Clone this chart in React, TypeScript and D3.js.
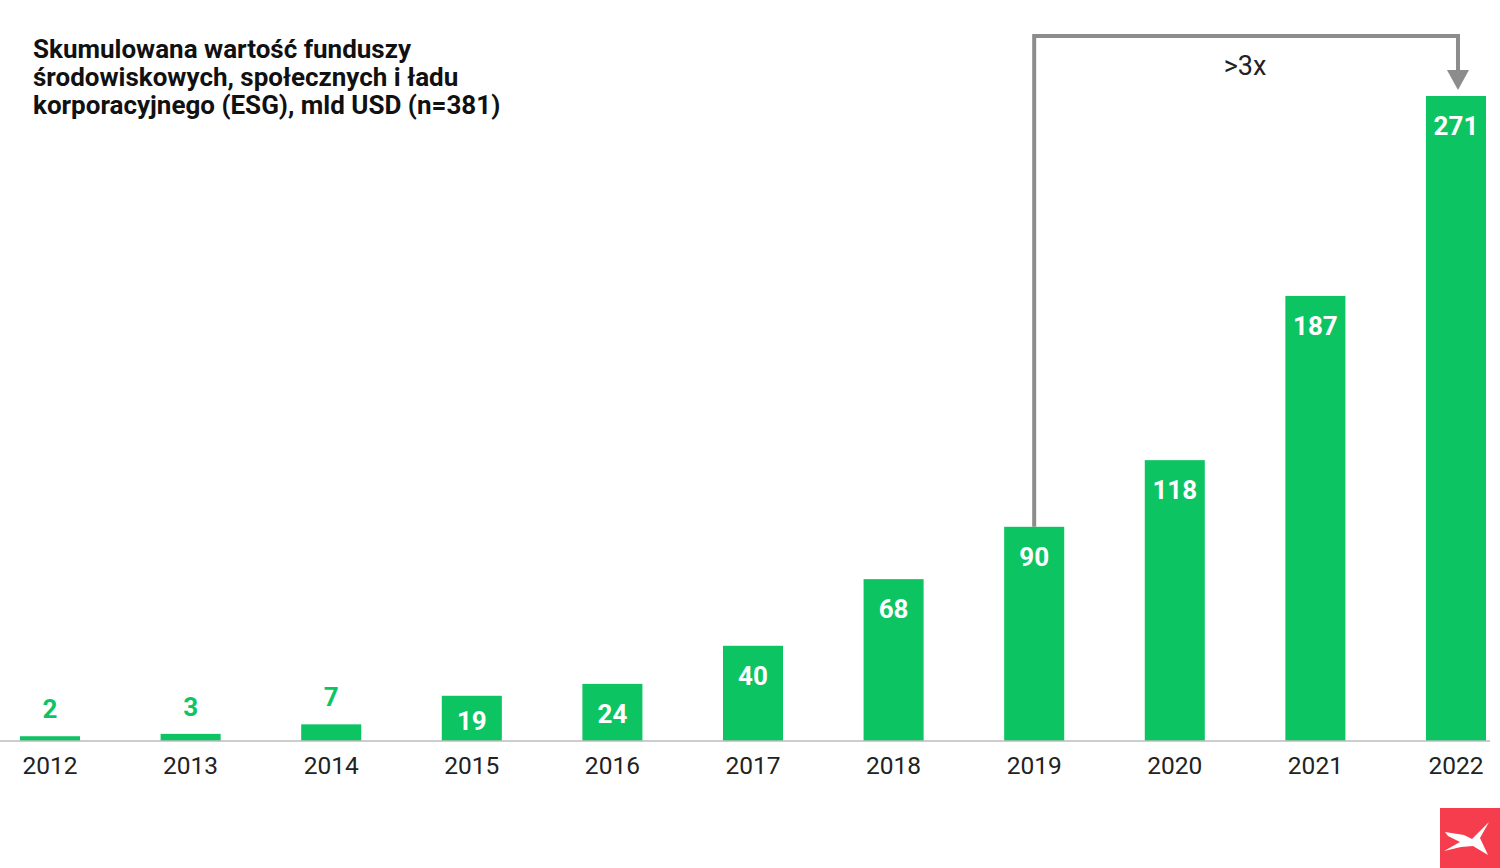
import React from "react";
import * as d3 from "d3";

const years = ["2012","2013","2014","2015","2016","2017","2018","2019","2020","2021","2022"];
const values = [2,3,7,19,24,40,68,90,118,187,271];
const titleLines = [
  "Skumulowana wartość funduszy",
  "środowiskowych, społecznych i ładu",
  "korporacyjnego (ESG), mld USD (n=381)",
];
const annotationText = ">3x";

const W = 1500, H = 868;
const GREEN = "#0dc463";
const FONT = "Roboto, 'Noto Sans', sans-serif";

export default function App() {
  const x = d3.scaleBand<string>().domain(years).range([20, 1486]).paddingInner(0.573).paddingOuter(0);
  const baseY = 741;
  const y = d3.scaleLinear().domain([0, 271]).range([baseY, 96]);
  const bw = x.bandwidth();
  const cx = (yr: string) => (x(yr) as number) + bw / 2;

  const x19 = cx("2019");
  const x22 = cx("2022") + 2;
  const topY = 36;

  return (
    <svg width={W} height={H} style={{ position: "absolute", left: 0, top: 0 }} fontFamily={FONT}>
      <rect width={W} height={H} fill="#fff" />
      {titleLines.map((t, i) => (
        <text key={i} x={33} y={58 + i * 28} fontSize={26} fontWeight={700} fill="#111">{t}</text>
      ))}
      {years.map((yr, i) => {
        const v = values[i];
        const top = y(v);
        const inside = v >= 15;
        const ly = inside ? Math.min(top + 32, (top + baseY) / 2 + 5) : top - 25;
        return (
          <g key={yr}>
            <rect x={x(yr)} y={top} width={bw} height={baseY - top} fill={GREEN} />
            <text
              x={cx(yr)}
              y={ly}
              textAnchor="middle"
              dominantBaseline="middle"
              fontSize={26}
              fontWeight={700}
              fill={inside ? "#fff" : GREEN}
            >{v}</text>
            <text x={cx(yr)} y={768} textAnchor="middle" dominantBaseline="middle" fontSize={24.5} fill="#222">{yr}</text>
          </g>
        );
      })}
      <line x1={0} x2={1490} y1={baseY} y2={baseY} stroke="#bdbdbd" strokeWidth={1.5} />
      <path
        d={`M${x19},${y(90)} V${topY} H${x22} V${74}`}
        fill="none"
        stroke="#8c8c8c"
        strokeWidth={4}
      />
      <path d={`M${x22 - 11},${70} L${x22 + 11},${70} L${x22},${90} Z`} fill="#8c8c8c" />
      <text x={1245} y={68} textAnchor="middle" dominantBaseline="middle" fontSize={27} fill="#222">{annotationText}</text>
      <g transform="translate(1440,808)">
        <rect width={60} height={60} fill="#f53d4d" />
        <path d="M5,24 L24,27 L32,31 L49,14 L40,30 L48,47 L33,38 L21,39 L4,43 L20,34 L8,28 Z" fill="#fff" />
      </g>
    </svg>
  );
}
